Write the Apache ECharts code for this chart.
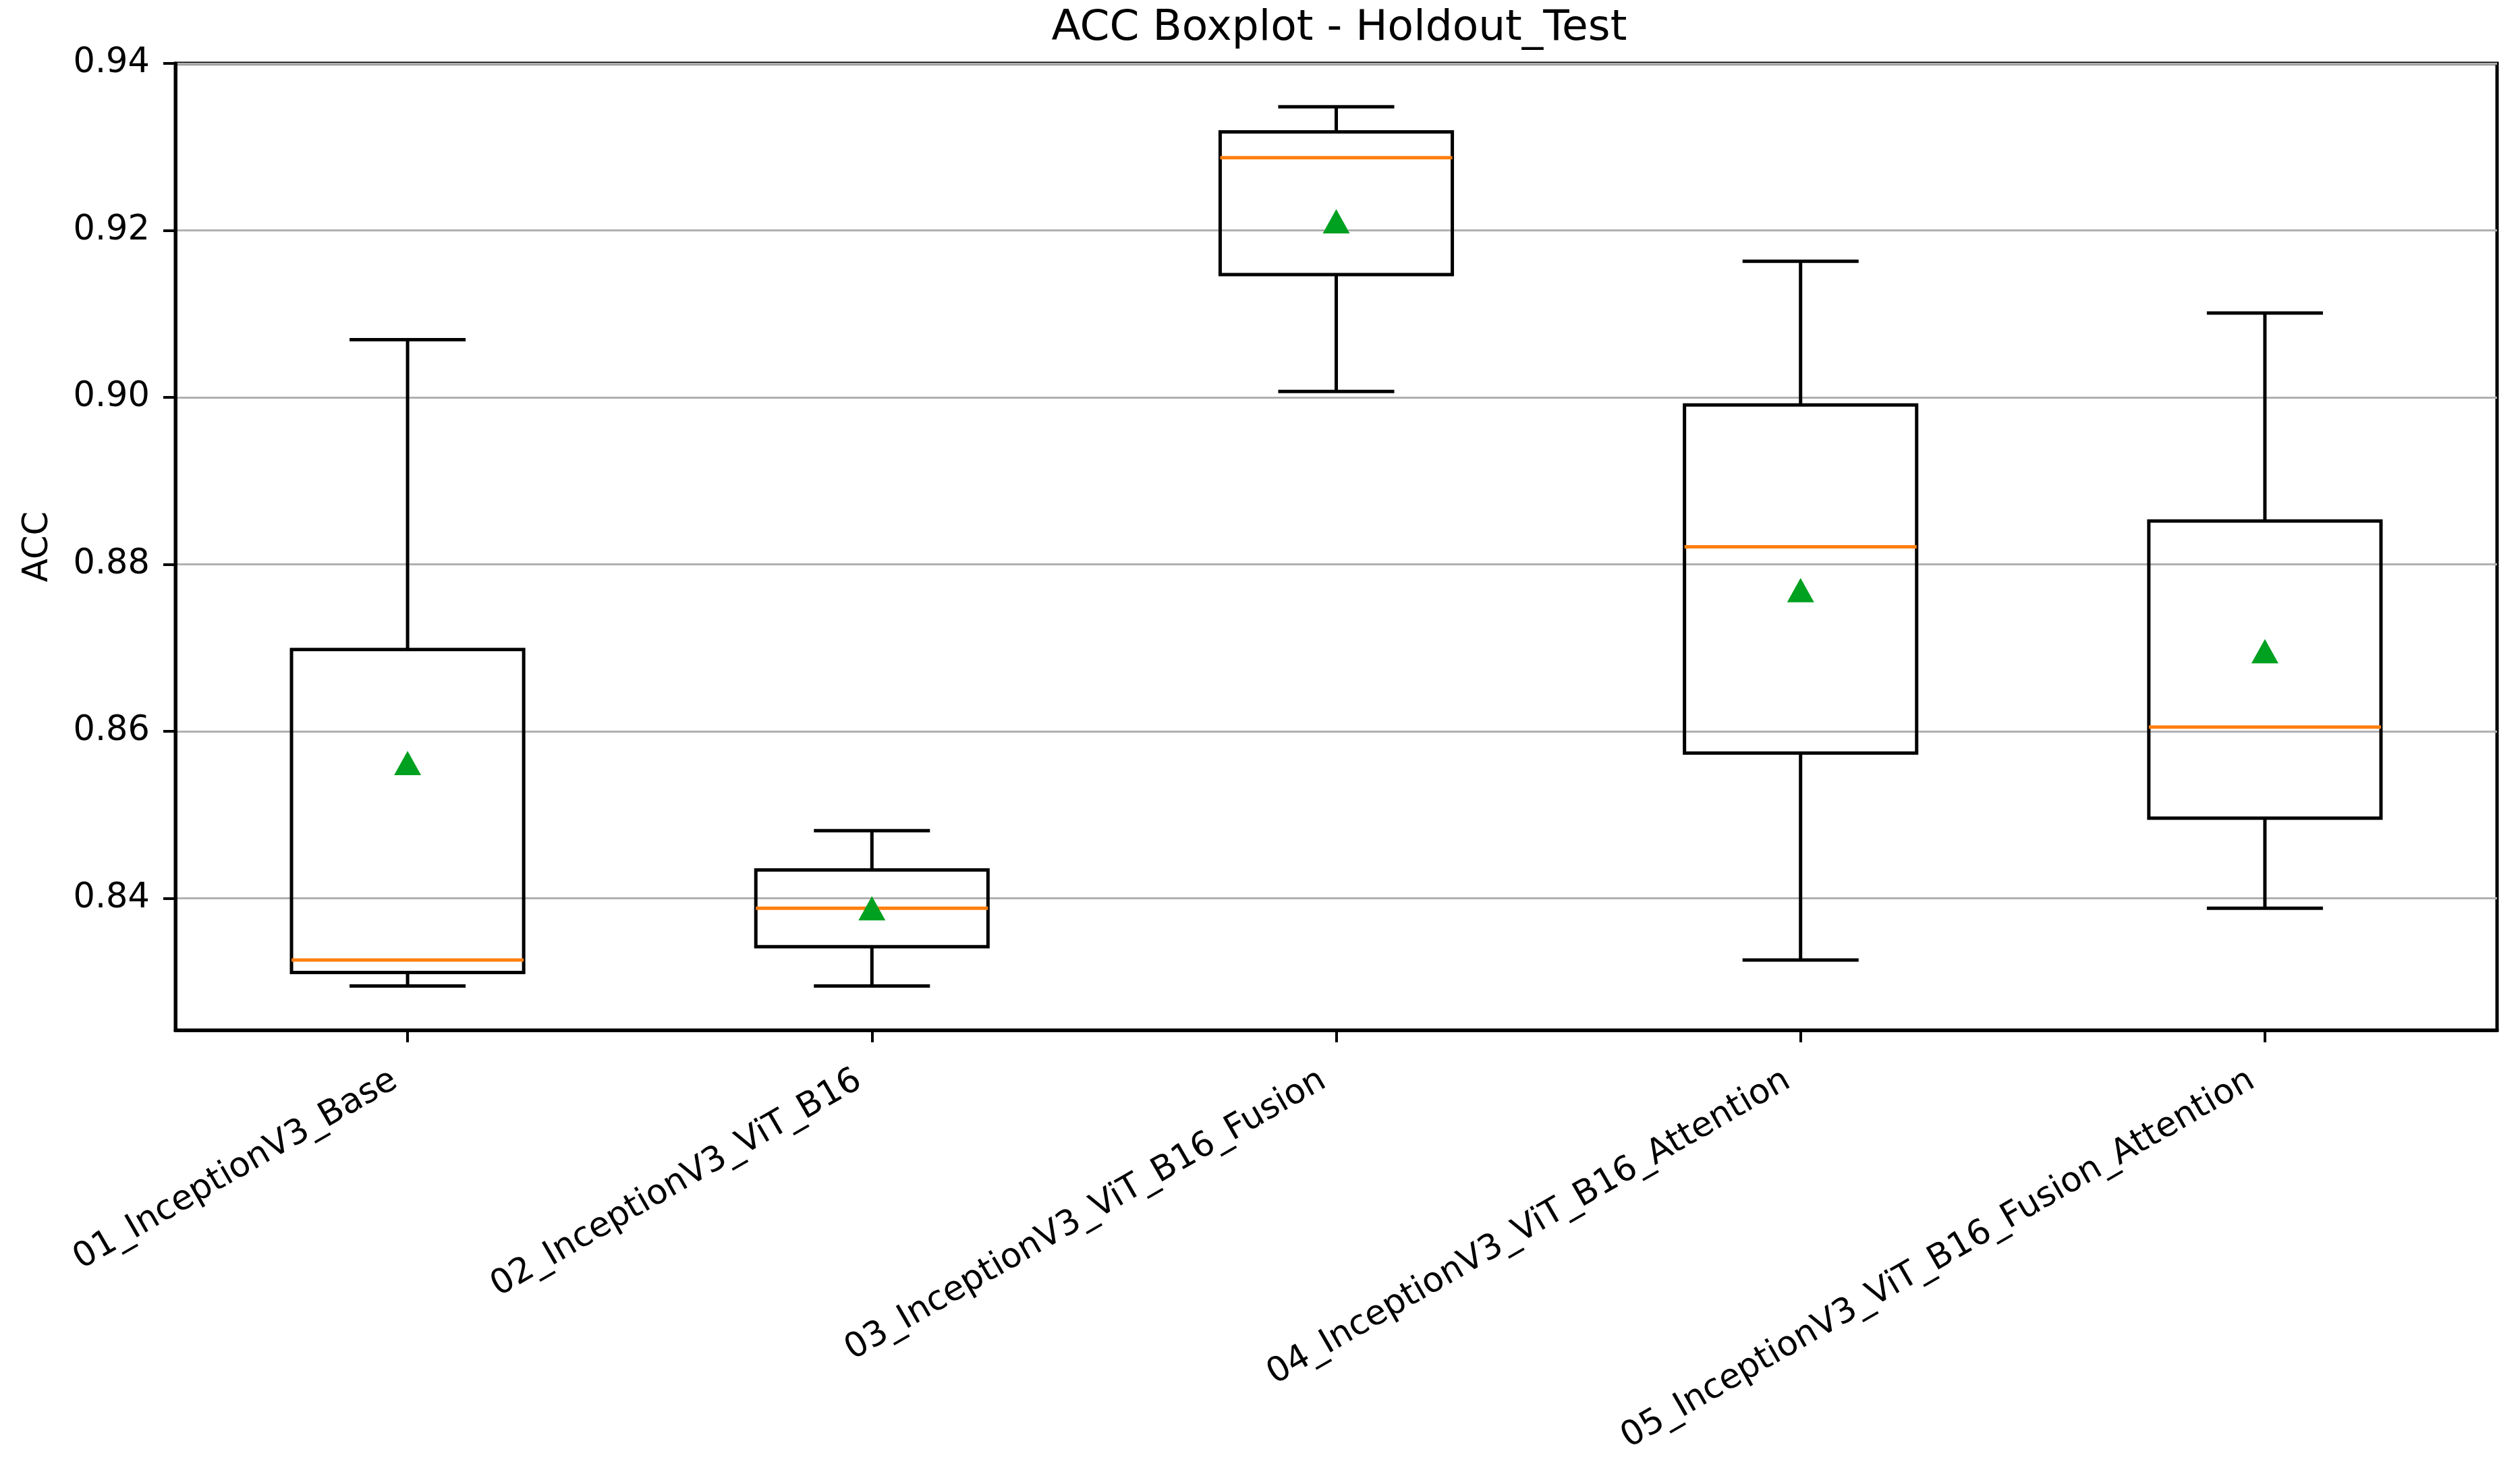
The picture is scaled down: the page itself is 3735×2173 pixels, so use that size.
<!DOCTYPE html>
<html>
<head>
<meta charset="utf-8">
<script src="https://cdn.jsdelivr.net/npm/echarts@6/dist/echarts.min.js"></script>
<style>
html,body{margin:0;padding:0;background:#fff;}
#chart{width:3735px;height:2173px;}
</style>
</head>
<body>
<div id="chart"></div>
<script>
// ---- data ----
const categories = [
  '01_InceptionV3_Base',
  '02_InceptionV3_ViT_B16',
  '03_InceptionV3_ViT_B16_Fusion',
  '04_InceptionV3_ViT_B16_Attention',
  '05_InceptionV3_ViT_B16_Fusion_Attention'
];
const whiskerLow  = [0.8295, 0.8295, 0.9007, 0.8326, 0.8388];
const q1          = [0.8311, 0.8342, 0.9147, 0.8574, 0.8496];
const median      = [0.8326, 0.8388, 0.9287, 0.8821, 0.8605];
const q3          = [0.8698, 0.8434, 0.9318, 0.8991, 0.8852];
const whiskerHigh = [0.9069, 0.8481, 0.9348, 0.9163, 0.9101];
const means       = [0.8562, 0.8388, 0.9211, 0.8769, 0.8696];
const yTicks = [0.84, 0.86, 0.88, 0.90, 0.92, 0.94];
const yMin = 0.8242, yMax = 0.94;

const FONT = 'DejaVu Sans';
const boxData = categories.map((c, i) => [i, whiskerLow[i], q1[i], median[i], q3[i], whiskerHigh[i]]);
const meanData = categories.map((c, i) => [i, means[i]]);

function renderBox(params, api) {
  const x = api.value(0);
  const pLo = api.coord([x, api.value(1)]);
  const pQ1 = api.coord([x, api.value(2)]);
  const pMed = api.coord([x, api.value(3)]);
  const pQ3 = api.coord([x, api.value(4)]);
  const pHi = api.coord([x, api.value(5)]);
  const band = api.size([1, 0])[0];
  const hb = band * 0.25, hc = band * 0.125;
  const cx = pMed[0];
  const black = {stroke: '#000', lineWidth: 5, fill: null};
  return {
    type: 'group',
    children: [
      {type: 'line', shape: {x1: cx, y1: pQ3[1], x2: cx, y2: pHi[1]}, style: black},
      {type: 'line', shape: {x1: cx, y1: pQ1[1], x2: cx, y2: pLo[1]}, style: black},
      {type: 'line', shape: {x1: cx - hc, y1: pHi[1], x2: cx + hc, y2: pHi[1]}, style: black},
      {type: 'line', shape: {x1: cx - hc, y1: pLo[1], x2: cx + hc, y2: pLo[1]}, style: black},
      {type: 'rect', shape: {x: cx - hb, y: pQ3[1], width: 2 * hb, height: pQ1[1] - pQ3[1]}, style: {stroke: '#000', lineWidth: 5, fill: 'rgba(0,0,0,0)'}},
      {type: 'line', shape: {x1: cx - hb, y1: pMed[1], x2: cx + hb, y2: pMed[1]}, style: {stroke: '#ff7f0e', lineWidth: 5}}
    ]
  };
}

const chart = echarts.init(document.getElementById('chart'), null, {renderer: 'canvas'});
chart.setOption({
  backgroundColor: '#ffffff',
  animation: false,
  textStyle: {fontFamily: FONT},
  title: {
    text: 'ACC Boxplot - Holdout_Test',
    left: 1980, textAlign: 'center', top: 6,
    textStyle: {fontFamily: FONT, fontSize: 63, fontWeight: 'normal', color: '#000'}
  },
  grid: {
    left: 260, right: 34, top: 94, bottom: 646,
    show: true, borderColor: '#000', borderWidth: 5, backgroundColor: 'transparent'
  },
  xAxis: {
    type: 'category',
    data: categories,
    boundaryGap: true,
    axisLine: {show: true, lineStyle: {color: '#000', width: 5}},
    axisTick: {show: true, alignWithLabel: true, length: 18, lineStyle: {color: '#000', width: 4}},
    axisLabel: {rotate: 30, margin: 60, padding: [0, 22, 0, 0], fontFamily: FONT, fontSize: 51, color: '#000', interval: 0},
    splitLine: {show: false}
  },
  yAxis: {
    type: 'value',
    min: yMin, max: yMax,
    name: 'ACC', nameLocation: 'middle', nameGap: 178, nameRotate: 90,
    nameTextStyle: {fontFamily: FONT, fontSize: 51, color: '#000'},
    axisLine: {show: true, lineStyle: {color: '#000', width: 5}},
    axisTick: {show: true, length: 18, customValues: yTicks, lineStyle: {color: '#000', width: 4}},
    axisLabel: {
      customValues: yTicks, margin: 38, fontFamily: FONT, fontSize: 51, color: '#000',
      formatter: v => v.toFixed(2)
    },
    splitLine: {show: true, lineStyle: {color: '#b0b0b0', width: 3}}
  },
  series: [
    {
      type: 'custom',
      renderItem: renderBox,
      data: boxData,
      encode: {x: 0, y: [1, 2, 3, 4, 5]},
      z: 3
    },
    {
      type: 'scatter',
      data: meanData,
      symbol: 'triangle',
      symbolSize: [40, 36],
      itemStyle: {color: '#00a020', opacity: 1},
      z: 5
    }
  ]
});
</script>
</body>
</html>
